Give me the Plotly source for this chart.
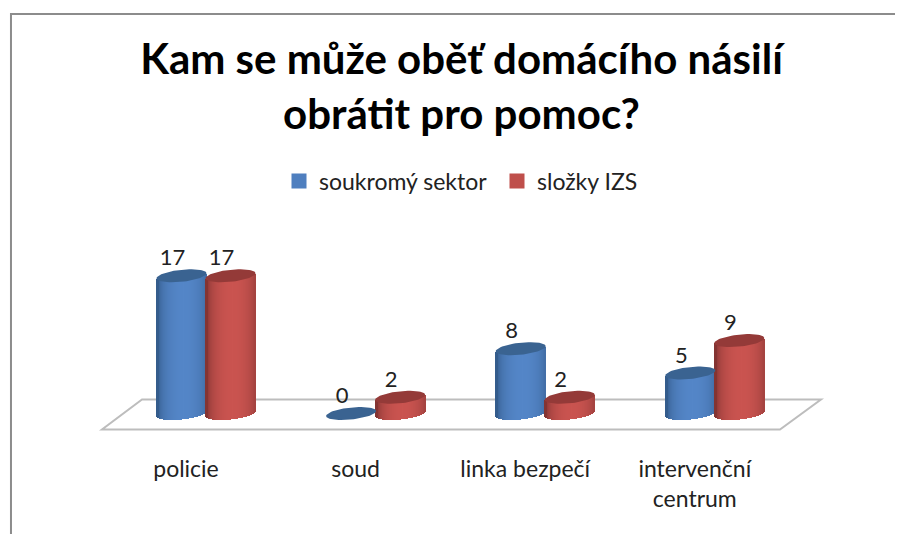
import numpy as np
import plotly.graph_objects as go

categories = ['policie', 'soud', 'linka bezpečí', 'intervenční<br>centrum']
soukromy_sektor = [17, 0, 8, 5]
slozky_izs = [17, 2, 2, 9]

WIDTH, HEIGHT = 903, 534
PAGE_MARGIN = 8  # the browser's body margin, the figure starts here
FONT = 'Lato, Carlito, sans-serif'

# pixel scales of the axes (the chart is a fake 3D view, so everything is built in px)
PX_PER_CAT = 169.6
PX_PER_UNIT = 8.1
CAT0_PX = 186 - PAGE_MARGIN
ZERO_PX = 413.5 - PAGE_MARGIN
AXIS_BOTTOM_PX = 453 - PAGE_MARGIN

# cylinder shape, px
HALF_W = 25
CAP_B = 6
CAP_TILT = 2.5
STRIPS = 50


def paper_x(px):
    return (px - PAGE_MARGIN) / WIDTH


def paper_y(px):
    return 1 - (px - PAGE_MARGIN) / HEIGHT


def mix(c0, c1, k):
    return 'rgb(%d,%d,%d)' % tuple(a + (b - a) * k for a, b in zip(c0, c1))


def add_cylinders(fig, values, name, offset_px, dark, light, cap):
    half = HALF_W / PX_PER_CAT
    b = CAP_B / PX_PER_UNIT
    tilt = CAP_TILT / PX_PER_UNIT
    offset = offset_px / PX_PER_CAT

    # body: thin bars side by side give the shading across the cylinder
    xs, bases, heights, colors = [], [], [], []
    t = (np.arange(STRIPS) + 0.5) / STRIPS * 2 - 1
    shade = np.sqrt(np.clip(1 - (t - 0.1) ** 2, 0, 1))
    round_part = np.sqrt(1 - t ** 2)
    for i, v in enumerate(values):
        if v == 0:
            continue
        xs.extend(i + offset + t * half)
        low = tilt * t - b * round_part
        bases.extend(low)
        heights.extend([v + 0.1] * STRIPS)
        colors.extend(mix(dark, light, s) for s in shade)
    fig.add_trace(go.Bar(
        x=xs,
        y=heights,
        base=bases,
        width=half / STRIPS * 2.2,
        marker=dict(color=colors, line=dict(width=0)),
        showlegend=False,
        hoverinfo='skip',
    ))

    # top caps
    angle = np.linspace(0, 2 * np.pi, 61)
    cap_x, cap_y = [], []
    for i, v in enumerate(values):
        ct = np.cos(angle)
        cap_x.extend(i + offset + ct * half)
        cap_y.extend(v + tilt * ct + b * np.sin(angle))
        cap_x.append(None)
        cap_y.append(None)
    fig.add_trace(go.Scatter(
        x=cap_x,
        y=cap_y,
        mode='lines',
        fill='toself',
        fillcolor=cap,
        line=dict(width=0, color=cap),
        showlegend=False,
        hoverinfo='skip',
    ))

    # value labels
    fig.add_trace(go.Scatter(
        x=[i + (offset_px - 9) / PX_PER_CAT for i in range(len(values))],
        y=[v + 16 / PX_PER_UNIT for v in values],
        mode='text',
        text=[str(v) for v in values],
        textposition='middle center',
        textfont=dict(family=FONT, size=22, color='#222222'),
        showlegend=False,
        hoverinfo='skip',
    ))

    # legend entry
    fig.add_trace(go.Scatter(
        x=[None],
        y=[None],
        mode='markers',
        name=name,
        marker=dict(symbol='square', size=15, color=mix(dark, light, 0.85)),
    ))


fig = go.Figure()
add_cylinders(fig, soukromy_sektor, 'soukromý sektor', -4.5, (52, 92, 140), (84, 134, 200), '#3A6391')
add_cylinders(fig, slozky_izs, 'složky IZS', 44.5, (132, 52, 50), (202, 84, 80), '#943A38')

# floor of the 3D view and the frame of the slide
floor = [(102, 429.5), (780, 429.5), (821, 399.5), (142, 399.5)]
floor_path = 'M ' + ' L '.join('%.4f %.4f' % (paper_x(x), paper_y(y)) for x, y in floor) + ' Z'
frame_path = 'M %.4f %.4f L %.4f %.4f L %.4f %.4f' % (
    paper_x(11), paper_y(HEIGHT + PAGE_MARGIN), paper_x(11), paper_y(14), paper_x(WIDTH + PAGE_MARGIN), paper_y(14))

fig.update_layout(
    width=WIDTH,
    height=HEIGHT,
    margin=dict(l=0, r=0, t=0, b=0),
    paper_bgcolor='white',
    plot_bgcolor='rgba(0,0,0,0)',
    barmode='overlay',
    bargap=0,
    title=dict(
        text='Kam se může oběť domácího násilí<br>obrátit pro pomoc?',
        font=dict(family=FONT, size=42, color='black', weight='bold'),
        x=(461.5 - PAGE_MARGIN) / WIDTH,
        xanchor='center',
        xref='paper',
        y=1 - 66 / HEIGHT,
        yanchor='top',
    ),
    legend=dict(
        orientation='h',
        x=paper_x(279),
        y=paper_y(181),
        xanchor='left',
        yanchor='middle',
        font=dict(family=FONT, size=23, color='#222222'),
        bgcolor='rgba(0,0,0,0)',
        itemsizing='trace',
        entrywidth=173,
        entrywidthmode='pixels',
    ),
    xaxis=dict(
        domain=[0, 1],
        range=[-CAT0_PX / PX_PER_CAT, (WIDTH - CAT0_PX) / PX_PER_CAT],
        tickmode='array',
        tickvals=list(range(len(categories))),
        ticktext=categories,
        tickfont=dict(family=FONT, size=23, color='#222222'),
        ticks='',
        showline=False,
        showgrid=False,
        zeroline=False,
    ),
    yaxis=dict(
        domain=[1 - AXIS_BOTTOM_PX / HEIGHT, 1],
        range=[(ZERO_PX - AXIS_BOTTOM_PX) / PX_PER_UNIT, ZERO_PX / PX_PER_UNIT],
        visible=False,
    ),
    shapes=[
        dict(type='path', path=floor_path, xref='paper', yref='paper', layer='below',
             line=dict(color='#BDBDBD', width=2)),
        dict(type='path', path=frame_path, xref='paper', yref='paper', layer='below',
             line=dict(color='#8C8C8C', width=2)),
    ],
)

fig.write_html("out.html")
